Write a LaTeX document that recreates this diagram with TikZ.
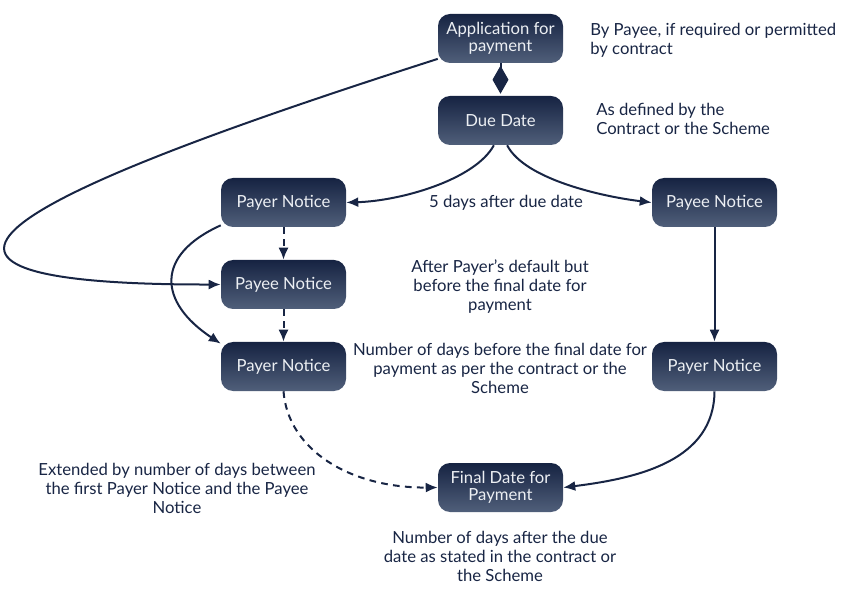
\documentclass[tikz,border=0pt]{standalone}
\usepackage{fontspec}
\setmainfont{Lato}
\usetikzlibrary{arrows.meta}

\definecolor{navy}{RGB}{24,37,68}
\definecolor{boxtop}{RGB}{22,35,66}
\definecolor{boxbot}{RGB}{80,95,122}
\definecolor{boxtext}{RGB}{236,239,243}

\begin{document}
\begin{tikzpicture}[x=0.75pt,y=0.75pt,yscale=-1,xscale=1,
  stage/.style={rounded corners=9pt, top color=boxtop, bottom color=boxbot, text=boxtext, minimum width=93.75pt, minimum height=36.75pt, align=center, inner sep=0.75pt, font=\fontsize{12.5}{12.75}\selectfont},
  note/.style={text=navy, inner sep=0.75pt, font=\fontsize{12.5}{14.25}\selectfont},
  flow/.style={draw=navy, line width=1.5pt, -{Latex[length=9pt,width=7.5pt]}},
  dflow/.style={flow, dash pattern=on 5pt off 4pt}]
%set diagram size to the reference
\useasboundingbox (0,0) rectangle (856,591);

% Boxes
\node[stage] (app) at (500.5,38.5) {Application for\\payment};
\node[stage] (due) at (500.5,120.5) {Due Date};
\node[stage] (payerA) at (283.5,202.5) {Payer Notice};
\node[stage] (payeeA) at (283.5,284.5) {Payee Notice};
\node[stage] (payerB) at (283.5,366.5) {Payer Notice};
\node[stage] (payeeR) at (714.5,202.5) {Payee Notice};
\node[stage] (payerR) at (714.5,366.5) {Payer Notice};
\node[stage] (final) at (500.5,487.5) {Final Date for\\Payment};

% Text Node
\node[note, anchor=west, align=left] (byPayee) at (589,40) {By Payee, if required or permitted\\by contract};
% Text Node
\node[note, anchor=west, align=left] (defined) at (595,119) {As defined by the\\Contract or the Scheme};
% Text Node
\node[note] (fiveDays) at (506,203) {5 days after due date};
% Text Node
\node[note, align=center] (default) at (500,287) {After Payer's default but\\before the final date for\\payment};
% Text Node
\node[note, align=center] (before) at (500,368) {Number of days before the final date for\\payment as per the contract or the\\Scheme};
% Text Node
\node[note, align=center] (extended) at (177,488) {Extended by number of days between\\the first Payer Notice and the Payee\\Notice};
% Text Node
\node[note, align=center] (after) at (500,556) {Number of days after the due\\date as stated in the contract or\\the Scheme};

%Straight Lines
\draw[navy, line width=1.5pt, -{Diamond[length=21pt,width=12pt]}, shorten >=1.5pt] (app.south) -- (due.north);
\draw[dflow] (payerA) -- (payeeA);
\draw[dflow] (payeeA) -- (payerB);
\draw[flow] (payeeR) -- (payerR);

%Curve Lines
\draw[flow] (due.-105) .. controls (475,180) and (400,201) .. (payerA.east);
\draw[flow] (due.-75) .. controls (525,180) and (605,197) .. (payeeR.west);
\draw[flow] (app.198) .. controls (60,180) and (-195,285) .. (payeeA.west);
\draw[flow] (payerA.200) .. controls (155,255) and (158,302) .. (payerB.160);
\draw[dflow] (payerB.south) .. controls (288,450) and (350,488) .. (final.west);
\draw[flow] (payerR.south) .. controls (714,460) and (640,478) .. (final.east);

\end{tikzpicture}
\end{document}
